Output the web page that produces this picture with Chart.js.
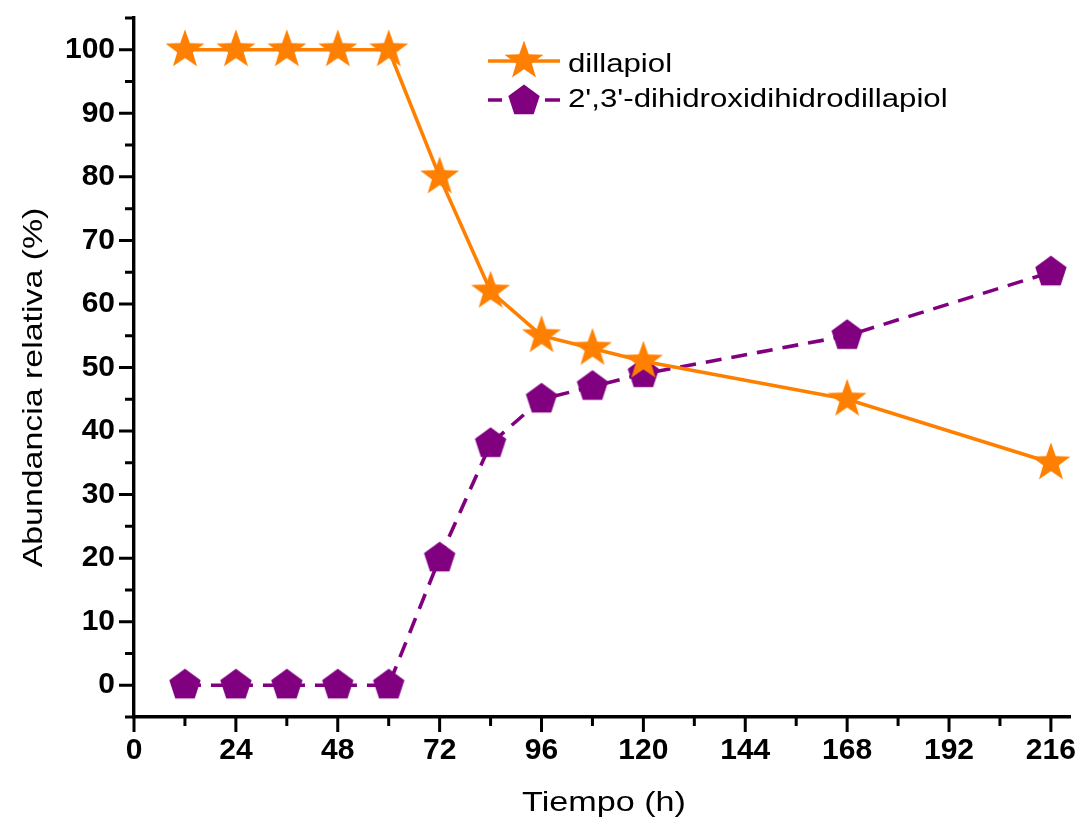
<!DOCTYPE html>
<html><head><meta charset="utf-8">
<script src="https://cdn.jsdelivr.net/npm/chart.js@4"></script>
<style>html,body{margin:0;padding:0;background:#fff}#wrap{width:1078px;height:823px}</style>
</head><body><div id="wrap"><canvas id="c" width="1078" height="823"></canvas></div>
<script>
const timeHours = [12, 24, 36, 48, 60, 72, 84, 96, 108, 120, 168, 216];
const dillapiol = [100, 100, 100, 100, 100, 80, 62, 55, 53, 51, 45, 35];
const dihidroxi = [0, 0, 0, 0, 0, 20, 38, 45, 47, 49, 55, 65];
const seriesNames = ["dillapiol", "2',3'-dihidroxidihidrodillapiol"];
const xMajorTicks = [0, 24, 48, 72, 96, 120, 144, 168, 192, 216];
const xMinorTicks = [12, 36, 60, 84, 108, 132, 156, 180, 204];
const yMajorTicks = [0, 10, 20, 30, 40, 50, 60, 70, 80, 90, 100];
const yMinorTicks = [-5, 5, 15, 25, 35, 45, 55, 65, 75, 85, 95, 105];
const xTitle = "Tiempo (h)";
const yTitle = "Abundancia relativa (%)";

const ORANGE = '#ff8000';
const PURPLE = '#800080';
const FONT = "'Liberation Sans', Arial, sans-serif";

function starPath(g, cx, cy, R, r) {
  g.beginPath();
  for (let i = 0; i < 10; i++) {
    const a = -Math.PI / 2 + i * Math.PI / 5;
    const rad = i % 2 === 0 ? R : r;
    const px = cx + rad * Math.cos(a), py = cy + rad * Math.sin(a);
    if (i === 0) g.moveTo(px, py); else g.lineTo(px, py);
  }
  g.closePath();
}
function pentPath(g, cx, cy, R) {
  g.beginPath();
  for (let i = 0; i < 5; i++) {
    const a = -Math.PI / 2 + i * 2 * Math.PI / 5;
    const px = cx + R * Math.cos(a), py = cy + R * Math.sin(a);
    if (i === 0) g.moveTo(px, py); else g.lineTo(px, py);
  }
  g.closePath();
}
function makeImg(drawFn, size) {
  const c = document.createElement('canvas');
  c.width = size; c.height = size;
  const g = c.getContext('2d');
  drawFn(g, size / 2, size / 2);
  return c;
}
const STAR_R = 20.5, STAR_r = 8.2, PENT_R = 16.5;
const starImg = makeImg((g, cx, cy) => { starPath(g, cx, cy, STAR_R, STAR_r); g.fillStyle = ORANGE; g.fill(); }, 44);
const pentImg = makeImg((g, cx, cy) => { pentPath(g, cx, cy, PENT_R); g.fillStyle = PURPLE; g.fill(); }, 36);

function stretchedText(ctx, text, x, y, size, sx, align, rot) {
  ctx.save();
  ctx.fillStyle = '#000';
  ctx.font = size + "px " + FONT;
  ctx.textAlign = align;
  ctx.textBaseline = 'alphabetic';
  ctx.translate(x, y);
  if (rot) ctx.rotate(rot);
  ctx.scale(sx, 1);
  ctx.fillText(text, 0, 0);
  ctx.restore();
}

const tickPlugin = {
  id: 'ticksPlugin',
  afterDraw(chart) {
    const ctx = chart.ctx;
    const xs = chart.scales.x, ys = chart.scales.y;
    const ca = chart.chartArea;
    ctx.save();
    ctx.strokeStyle = '#000';
    ctx.lineWidth = 3;
    ctx.lineCap = 'butt';
    ctx.beginPath();
    xMajorTicks.forEach(v => { const p = xs.getPixelForValue(v); ctx.moveTo(p, ca.bottom); ctx.lineTo(p, ca.bottom + 15); });
    xMinorTicks.forEach(v => { const p = xs.getPixelForValue(v); ctx.moveTo(p, ca.bottom); ctx.lineTo(p, ca.bottom + 9); });
    yMajorTicks.forEach(v => { const p = ys.getPixelForValue(v); ctx.moveTo(ca.left, p); ctx.lineTo(ca.left - 15, p); });
    yMinorTicks.forEach(v => { const p = ys.getPixelForValue(v); ctx.moveTo(ca.left, p); ctx.lineTo(ca.left - 9, p); });
    ctx.stroke();
    ctx.restore();

    // axis titles
    stretchedText(ctx, xTitle, 604, 811, 28, 1.22, 'center', 0);
    stretchedText(ctx, yTitle, 41.5, 387.5, 28, 1.21, 'center', -Math.PI / 2);

    // legend
    ctx.save();
    ctx.lineWidth = 3.5;
    ctx.strokeStyle = ORANGE;
    ctx.beginPath(); ctx.moveTo(488, 61); ctx.lineTo(560, 61); ctx.stroke();
    ctx.drawImage(starImg, 524 - 22, 61 - 22);
    ctx.strokeStyle = PURPLE;
    ctx.beginPath(); ctx.moveTo(488, 100); ctx.lineTo(502, 100); ctx.moveTo(545, 100); ctx.lineTo(560, 100); ctx.stroke();
    ctx.drawImage(pentImg, 524 - 18, 101 - 18);
    ctx.restore();
    stretchedText(ctx, seriesNames[0], 568, 71.5, 26, 1.2, 'left', 0);
    stretchedText(ctx, seriesNames[1], 568, 107, 26, 1.2, 'left', 0);
  }
};

new Chart(document.getElementById('c'), {
  type: 'line',
  data: {
    datasets: [
      {
        label: seriesNames[0],
        data: timeHours.map((t, i) => ({ x: t, y: dillapiol[i] })),
        borderColor: ORANGE, backgroundColor: ORANGE, borderWidth: 3.6,
        pointStyle: starImg, pointRadius: 20, pointHoverRadius: 20,
        tension: 0, fill: false, clip: false
      },
      {
        label: seriesNames[1],
        data: timeHours.map((t, i) => ({ x: t, y: dihidroxi[i] })),
        borderColor: PURPLE, backgroundColor: PURPLE, borderWidth: 3.6,
        borderDash: [16, 10],
        pointStyle: pentImg, pointRadius: 17, pointHoverRadius: 17,
        tension: 0, fill: false, clip: false
      }
    ]
  },
  options: {
    responsive: false,
    animation: false,
    devicePixelRatio: 1,
    events: [],
    layout: { autoPadding: false, padding: { left: 0, top: 18, right: 8, bottom: 0 } },
    plugins: { legend: { display: false }, tooltip: { enabled: false } },
    scales: {
      x: {
        type: 'linear', min: 0, max: 220.5,
        afterBuildTicks: s => { s.ticks = xMajorTicks.map(v => ({ value: v })); },
        afterFit: s => { s.height = 106; s.paddingLeft = 0; s.paddingRight = 0; },
        grid: { display: false, drawTicks: false },
        border: { display: true, color: '#000', width: 3.4 },
        ticks: { color: '#000', padding: 0, font: { family: FONT, size: 30, weight: 'bold', lineHeight: '68px' }, maxRotation: 0, autoSkip: false },
        title: { display: false }
      },
      y: {
        type: 'linear', min: -5, max: 105,
        afterBuildTicks: s => { s.ticks = yMajorTicks.map(v => ({ value: v })); },
        afterFit: s => { s.width = 134; s.paddingTop = 0; s.paddingBottom = 0; },
        grid: { display: false, drawTicks: false },
        border: { display: true, color: '#000', width: 3.4 },
        ticks: { color: '#000', padding: 19, font: { family: FONT, size: 30, weight: 'bold' }, autoSkip: false },
        title: { display: false }
      }
    }
  },
  plugins: [tickPlugin]
});
</script>
</body></html>
